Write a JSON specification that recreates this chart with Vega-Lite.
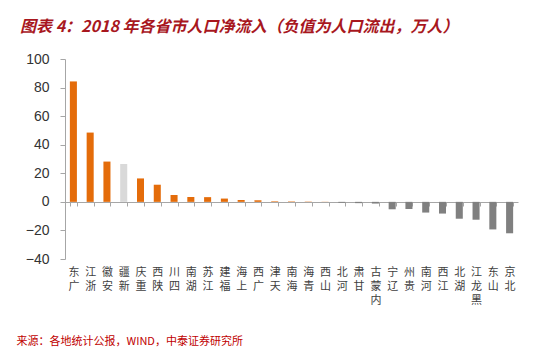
{
  "$schema": "https://vega.github.io/schema/vega-lite/v6.json",
  "autosize": "none",
  "width": 453,
  "height": 200,
  "padding": {"left": 65, "top": 59, "right": 32, "bottom": 94},
  "background": "#ffffff",
  "title": {
    "text": "图表 4：2018 年各省市人口净流入（负值为人口流出，万人）",
    "anchor": "start",
    "frame": "group",
    "dx": -45,
    "offset": 17,
    "font": "Noto Sans CJK SC",
    "fontSize": 16,
    "fontWeight": "bold",
    "fontStyle": "italic",
    "color": "#A8171E"
  },
  "data": {
    "values": [
      {"province": "广东", "value": 84.3},
      {"province": "浙江", "value": 48.5},
      {"province": "安徽", "value": 28.2},
      {"province": "新疆", "value": 26.5},
      {"province": "重庆", "value": 16.4},
      {"province": "陕西", "value": 12.0},
      {"province": "四川", "value": 4.8},
      {"province": "湖南", "value": 3.4},
      {"province": "江苏", "value": 3.3},
      {"province": "福建", "value": 2.3},
      {"province": "上海", "value": 1.3},
      {"province": "广西", "value": 1.1},
      {"province": "天津", "value": 0.4},
      {"province": "海南", "value": 0.3},
      {"province": "青海", "value": 0.2},
      {"province": "山西", "value": 0.1},
      {"province": "河北", "value": -0.6},
      {"province": "甘肃", "value": -0.9},
      {"province": "内蒙古", "value": -1.2},
      {"province": "辽宁", "value": -5.2},
      {"province": "贵州", "value": -5.0},
      {"province": "河南", "value": -7.5},
      {"province": "江西", "value": -8.2},
      {"province": "湖北", "value": -11.8},
      {"province": "黑龙江", "value": -12.5},
      {"province": "山东", "value": -19.3},
      {"province": "北京", "value": -22.0}
    ]
  },
  "mark": {"type": "bar"},
  "encoding": {
    "x": {
      "field": "province",
      "type": "nominal",
      "sort": null,
      "scale": {"paddingInner": 0.58, "paddingOuter": 0.29},
      "axis": {
        "orient": "bottom",
        "offset": -57,
        "domainColor": "#A6A6A6",
        "domainWidth": 1,
        "tickColor": "#A6A6A6",
        "tickSize": 4,
        "tickBand": "extent",
        "labelAngle": 0,
        "labelAlign": "center",
        "labelBaseline": "top",
        "labelPadding": 60,
        "labelFont": "Noto Sans CJK SC",
        "labelFontSize": 11,
        "labelLineHeight": 14,
        "labelColor": "#404040",
        "labelExpr": "reverse(split(datum.label, ''))",
        "title": "来源：各地统计公报，WIND，中泰证券研究所",
        "titleAnchor": "start",
        "titleAlign": "left",
        "titleBaseline": "alphabetic",
        "titleX": -49,
        "titleY": 142,
        "titleFont": "Noto Sans CJK SC",
        "titleFontSize": 11,
        "titleFontWeight": "normal",
        "titleColor": "#C00000"
      }
    },
    "y": {
      "field": "value",
      "type": "quantitative",
      "scale": {"domain": [-40, 100], "nice": false},
      "axis": {
        "values": [-40, -20, 0, 20, 40, 60, 80, 100],
        "grid": false,
        "title": null,
        "domainColor": "#A6A6A6",
        "tickColor": "#A6A6A6",
        "tickSize": 5,
        "labelPadding": 11,
        "labelFont": "Liberation Sans",
        "labelFontSize": 14,
        "labelColor": "#333333"
      }
    },
    "color": {
      "condition": [
        {"test": "datum.province === '新疆'", "value": "#D9D9D9"},
        {"test": "datum.value < 0", "value": "#808080"}
      ],
      "value": "#E46C0A"
    }
  },
  "config": {"view": {"stroke": null}}
}
